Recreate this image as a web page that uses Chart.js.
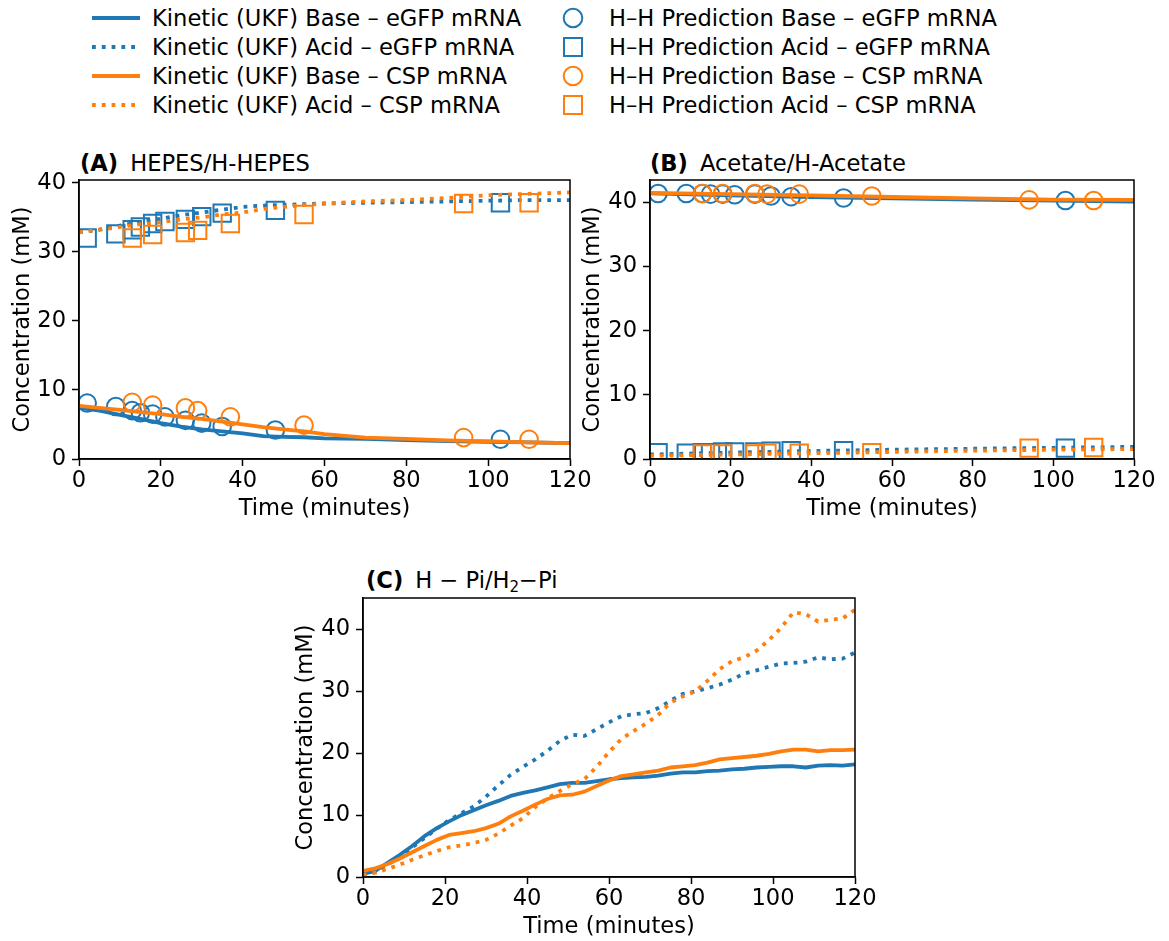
<!DOCTYPE html>
<html><head><meta charset="utf-8">
<script src="https://cdn.jsdelivr.net/npm/chart.js@4.4.0/dist/chart.umd.min.js"></script>
<style>
html,body{margin:0;padding:0;background:#fff;width:1169px;height:941px;overflow:hidden;position:relative;font-family:'DejaVu Sans',sans-serif;color:#000;}
canvas{position:absolute;}
.ptitle{position:absolute;font-size:22.6px;line-height:26px;white-space:nowrap;}
.ptitle b{margin-right:12px;}
.ptitle sub{font-size:15px;vertical-align:-4px;line-height:0;}
.lg{position:absolute;font-size:22.6px;line-height:26px;white-space:nowrap;}
.lg svg{position:absolute;}
</style>
</head><body>
<div id="legend"></div>
<div class="ptitle" style="left:80px;top:150px;"><b>(A)</b>HEPES/H-HEPES</div>
<div class="ptitle" style="left:650px;top:150px;"><b>(B)</b>Acetate/H-Acetate</div>
<div class="ptitle" style="left:366px;top:567px;"><b>(C)</b>H − Pi/H<sub>2</sub>−Pi</div>
<canvas id="cA" width="595" height="373" style="left:0px;top:155px;"></canvas>
<canvas id="cB" width="589" height="373" style="left:570px;top:155px;"></canvas>
<canvas id="cC" width="597" height="373" style="left:283px;top:573px;"></canvas>
<script>
// ---------------- DATA ----------------
const xTicks = [0, 20, 40, 60, 80, 100, 120];
const yTicksAB = [0, 10, 20, 30, 40];
const yTicksC = [0, 10, 20, 30, 40];

// H-H prediction sample times (minutes)
const tMarkEGFP = [2, 9, 13, 15, 18, 21, 26, 30, 35, 48, 103];
const tMarkCSP = [13, 18, 26, 29, 37, 55, 94, 110];

// Panel A: HEPES / H-HEPES
const tLineA = [0, 5, 10, 15, 20, 25, 30, 35, 40, 45, 50, 55, 60, 70, 80, 90, 100, 110, 120];
const aBaseEGFP = [7.4, 7.0, 6.4, 5.8, 5.2, 4.7, 4.3, 4.0, 3.7, 3.3, 3.2, 3.15, 3.0, 2.9, 2.75, 2.6, 2.5, 2.4, 2.3];
const aAcidEGFP = [32.8, 33.2, 33.8, 34.3, 34.8, 35.3, 35.7, 36.1, 36.5, 36.7, 36.8, 36.9, 37.0, 37.1, 37.2, 37.3, 37.4, 37.5, 37.5];
const aBaseCSP = [7.7, 7.4, 7.1, 6.8, 6.5, 6.1, 5.8, 5.4, 5.0, 4.6, 4.3, 4.0, 3.6, 3.1, 2.9, 2.7, 2.55, 2.4, 2.3];
const aAcidCSP = [32.8, 33.2, 33.6, 34.0, 34.3, 34.7, 35.0, 35.4, 35.7, 36.2, 36.5, 36.8, 37.0, 37.3, 37.5, 37.8, 38.2, 38.4, 38.6];
const aHHBaseEGFP = [8.1, 7.6, 7.0, 6.7, 6.5, 6.1, 5.6, 5.2, 4.7, 4.2, 2.85];
const aHHAcidEGFP = [32.0, 32.6, 33.2, 33.6, 34.1, 34.4, 34.7, 35.1, 35.6, 36.0, 37.1];
const aHHBaseCSP = [8.2, 7.8, 7.4, 7.0, 6.1, 4.9, 3.1, 2.85];
const aHHAcidCSP = [32.0, 32.5, 32.8, 33.1, 34.1, 35.4, 37.0, 37.1];

// Panel B: Acetate / H-Acetate
const tLineB = [0, 20, 40, 60, 80, 100, 120];
const bBaseEGFP = [41.4, 41.1, 40.85, 40.65, 40.45, 40.3, 40.15];
const bAcidEGFP = [0.7, 1.0, 1.25, 1.45, 1.6, 1.75, 1.9];
const bBaseCSP = [41.5, 41.3, 41.1, 40.85, 40.65, 40.45, 40.4];
const bAcidCSP = [0.5, 0.7, 0.9, 1.1, 1.3, 1.45, 1.55];
const bHHBaseEGFP = [41.4, 41.4, 41.4, 41.3, 41.3, 41.2, 41.3, 41.0, 40.9, 40.7, 40.3];
const bHHAcidEGFP = [1.0, 0.9, 1.0, 1.0, 1.1, 1.1, 1.1, 1.2, 1.3, 1.3, 1.7];
const bHHBaseCSP = [41.4, 41.4, 41.4, 41.3, 41.3, 41.0, 40.4, 40.3];
const bHHAcidCSP = [0.8, 0.8, 0.8, 0.9, 0.9, 1.0, 1.7, 1.8];

// Panel C: H-Pi / H2-Pi
const tLineC = [0,3,6,9,12,15,18,21,24,27,30,33,36,39,42,45,48,51,54,57,60,63,66,69,72,75,78,81,84,87,90,93,96,99,102,105,108,111,114,117,120];
const cBaseEGFP = [0.5,1.0,2.3,3.6,5.0,6.6,7.9,9.0,10.0,10.8,11.6,12.3,13.1,13.6,14.0,14.5,15.0,15.2,15.2,15.5,15.8,16.0,16.1,16.2,16.4,16.7,16.9,16.9,17.1,17.2,17.4,17.5,17.7,17.8,17.9,17.9,17.7,18.0,18.1,18.0,18.2];
const cAcidEGFP = [0.2,0.8,2.0,3.3,4.8,6.3,7.8,9.2,10.3,11.4,13.0,14.8,16.5,17.8,19.0,20.4,22.0,23.0,22.8,23.9,25.0,26.0,26.3,26.5,27.3,28.5,29.6,30.0,30.5,31.1,31.9,32.9,33.4,34.0,34.5,34.6,34.8,35.5,35.2,35.3,36.3];
const cBaseCSP = [1.0,1.4,2.1,3.0,4.0,5.0,6.0,6.8,7.1,7.4,7.9,8.6,9.8,10.7,11.7,12.6,13.2,13.3,13.8,14.7,15.6,16.3,16.6,16.9,17.2,17.7,17.9,18.1,18.5,19.0,19.2,19.4,19.6,19.9,20.3,20.6,20.6,20.3,20.5,20.5,20.6];
const cAcidCSP = [0.3,0.7,1.3,2.0,2.8,3.5,4.2,4.8,5.1,5.5,6.0,7.0,8.3,9.5,11.3,12.7,13.9,15.0,15.8,17.8,20.2,22.3,23.6,24.8,26.2,28.2,29.2,30.0,31.7,33.6,34.9,35.5,36.6,38.3,40.3,42.8,42.5,41.3,41.6,41.8,43.2];

const labels = {
  kbE: 'Kinetic (UKF) Base – eGFP mRNA',
  kaE: 'Kinetic (UKF) Acid – eGFP mRNA',
  kbC: 'Kinetic (UKF) Base – CSP mRNA',
  kaC: 'Kinetic (UKF) Acid – CSP mRNA',
  hbE: 'H–H Prediction Base – eGFP mRNA',
  haE: 'H–H Prediction Acid – eGFP mRNA',
  hbC: 'H–H Prediction Base – CSP mRNA',
  haC: 'H–H Prediction Acid – CSP mRNA'
};

// ---------------- STYLE ----------------
const BLUE = '#1f77b4', ORANGE = '#ff7f0e';
const FONT = "'DejaVu Sans', sans-serif";
const FS = 22.6;
const LW = 3.8;
const DOT = [3.8, 6];

function pts(t, y) { return t.map((x, i) => ({x: x, y: y[i]})); }
function lineDS(label, t, y, color, dotted) {
  return {label, data: pts(t, y), showLine: true, borderColor: color, borderWidth: LW,
    borderDash: dotted ? DOT : [], borderCapStyle: 'butt', borderJoinStyle: 'round',
    pointRadius: 0, pointHoverRadius: 0, fill: false, tension: 0};
}
function markDS(label, t, y, color, style) {
  return {label, data: pts(t, y), showLine: false, pointStyle: style,
    pointRadius: style === 'rect' ? 12.3 : 8.8, pointHoverRadius: style === 'rect' ? 12.3 : 8.8,
    borderColor: color, pointBorderColor: color, backgroundColor: 'rgba(0,0,0,0)',
    pointBackgroundColor: 'rgba(0,0,0,0)', pointBorderWidth: 2, borderWidth: 2};
}
function ordered(list) { list.forEach((d, i) => { d.order = -i; }); return list; }

const spinePlugin = {
  id: 'spines',
  afterDatasetsDraw(chart) {
    const a = chart.chartArea, ctx = chart.ctx;
    ctx.save(); ctx.strokeStyle = '#000'; ctx.lineWidth = 1.5;
    ctx.strokeRect(a.left, a.top, a.right - a.left, a.bottom - a.top);
    ctx.restore();
  }
};

function makeScales(ymax, yTicks, yw) {
  const tickGrid = {display: true, drawOnChartArea: false, drawTicks: true, tickLength: 7, tickWidth: 1.5, color: '#000'};
  return {
    x: {type: 'linear', min: 0, max: 120,
      afterBuildTicks: s => { s.ticks = xTicks.map(v => ({value: v})); },
      afterFit: s => { s.height = 64; },
      grid: tickGrid, border: {display: true, color: '#000', width: 1.5},
      ticks: {color: '#000', font: {family: FONT, size: FS}, padding: 2, maxRotation: 0, autoSkip: false},
      title: {display: true, text: 'Time (minutes)', color: '#000', font: {family: FONT, size: FS}, padding: {top: 0, bottom: 0}}},
    y: {type: 'linear', min: 0, max: ymax,
      afterBuildTicks: s => { s.ticks = yTicks.map(v => ({value: v})); },
      afterFit: s => { s.width = yw; },
      grid: tickGrid, border: {display: true, color: '#000', width: 1.5},
      ticks: {color: '#000', font: {family: FONT, size: FS}, padding: 6, autoSkip: false},
      title: {display: true, text: 'Concentration (mM)', color: '#000', font: {family: FONT, size: FS}, padding: {top: 5, bottom: 0}}}
  };
}

function makeChart(id, datasets, ymax, yTicks, yw) {
  return new Chart(document.getElementById(id), {
    type: 'scatter',
    data: {datasets: datasets},
    options: {responsive: false, animation: false, devicePixelRatio: 1,
      layout: {padding: {top: 25, right: 25, bottom: 5, left: 5}},
      plugins: {legend: {display: false}, tooltip: {enabled: false}, title: {display: false}},
      scales: makeScales(ymax, yTicks, yw)},
    plugins: [spinePlugin]
  });
}

makeChart('cA', ordered([
  lineDS(labels.kbE, tLineA, aBaseEGFP, BLUE, false),
  lineDS(labels.kaE, tLineA, aAcidEGFP, BLUE, true),
  markDS(labels.hbE, tMarkEGFP, aHHBaseEGFP, BLUE, 'circle'),
  markDS(labels.haE, tMarkEGFP, aHHAcidEGFP, BLUE, 'rect'),
  lineDS(labels.kbC, tLineA, aBaseCSP, ORANGE, false),
  lineDS(labels.kaC, tLineA, aAcidCSP, ORANGE, true),
  markDS(labels.hbC, tMarkCSP, aHHBaseCSP, ORANGE, 'circle'),
  markDS(labels.haC, tMarkCSP, aHHAcidCSP, ORANGE, 'rect')
]), 40.4, yTicksAB, 74);

makeChart('cB', ordered([
  lineDS(labels.kbE, tLineB, bBaseEGFP, BLUE, false),
  lineDS(labels.kaE, tLineB, bAcidEGFP, BLUE, true),
  markDS(labels.hbE, tMarkEGFP, bHHBaseEGFP, BLUE, 'circle'),
  markDS(labels.haE, tMarkEGFP, bHHAcidEGFP, BLUE, 'rect'),
  lineDS(labels.kbC, tLineB, bBaseCSP, ORANGE, false),
  lineDS(labels.kaC, tLineB, bAcidCSP, ORANGE, true),
  markDS(labels.hbC, tMarkCSP, bHHBaseCSP, ORANGE, 'circle'),
  markDS(labels.haC, tMarkCSP, bHHAcidCSP, ORANGE, 'rect')
]), 43.5, yTicksAB, 75);

makeChart('cC', ordered([
  lineDS(labels.kbE, tLineC, cBaseEGFP, BLUE, false),
  lineDS(labels.kaE, tLineC, cAcidEGFP, BLUE, true),
  lineDS(labels.kbC, tLineC, cBaseCSP, ORANGE, false),
  lineDS(labels.kaC, tLineC, cAcidCSP, ORANGE, true)
]), 45.1, yTicksC, 75);

// ---------------- LEGEND (HTML) ----------------
const legendItems = [
  {text: labels.kbE, kind: 'solid', color: BLUE, col: 0, row: 0},
  {text: labels.kaE, kind: 'dotted', color: BLUE, col: 0, row: 1},
  {text: labels.kbC, kind: 'solid', color: ORANGE, col: 0, row: 2},
  {text: labels.kaC, kind: 'dotted', color: ORANGE, col: 0, row: 3},
  {text: labels.hbE, kind: 'circle', color: BLUE, col: 1, row: 0},
  {text: labels.haE, kind: 'square', color: BLUE, col: 1, row: 1},
  {text: labels.hbC, kind: 'circle', color: ORANGE, col: 1, row: 2},
  {text: labels.haC, kind: 'square', color: ORANGE, col: 1, row: 3}
];
const lg = document.getElementById('legend');
legendItems.forEach(it => {
  const cy = 18 + it.row * 29;
  const d = document.createElement('div');
  d.className = 'lg';
  d.style.top = (cy - 13) + 'px';
  let svg;
  if (it.col === 0) {
    d.style.left = '152px';
    svg = `<svg width="50" height="10" style="left:-60px;top:8px"><line x1="0" y1="5" x2="48" y2="5" stroke="${it.color}" stroke-width="${LW}" ${it.kind === 'dotted' ? 'stroke-dasharray="' + DOT.join(' ') + '"' : ''}/></svg>`;
  } else {
    d.style.left = '609px';
    if (it.kind === 'circle') svg = `<svg width="26" height="26" style="left:-49px;top:0px"><circle cx="13" cy="13" r="9.3" fill="none" stroke="${it.color}" stroke-width="2"/></svg>`;
    else svg = `<svg width="26" height="26" style="left:-49px;top:0px"><rect x="4" y="4" width="18" height="18" fill="none" stroke="${it.color}" stroke-width="2"/></svg>`;
  }
  d.innerHTML = svg + '<span>' + it.text + '</span>';
  lg.appendChild(d);
});
</script>
</body></html>
